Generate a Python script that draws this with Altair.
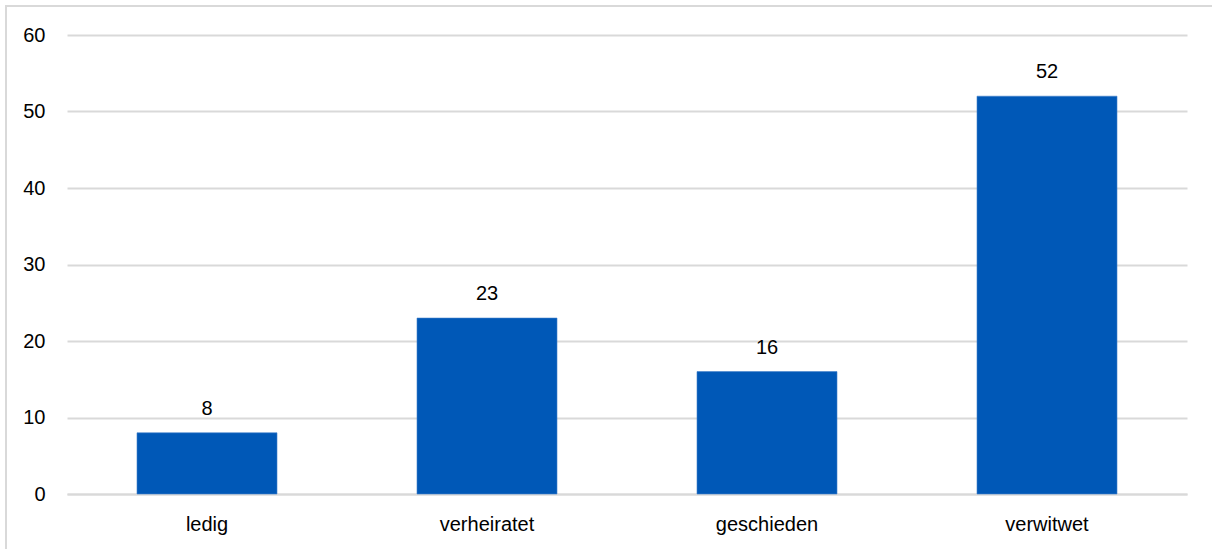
import altair as alt
import pandas as pd

# Familienstand and share (percent)
categories = ["ledig", "verheiratet", "geschieden", "verwitwet"]
values = [8, 23, 16, 52]

df = pd.DataFrame({"stand": categories, "wert": values})

FONT = "Liberation Sans"
FSIZE = 20
GRID = "#D9D9D9"
BAR = "#0058B7"

base = alt.Chart(df)

bars = base.mark_bar(color=BAR, stroke="#3F7FCB", strokeWidth=0.6).encode(
    x=alt.X(
        "stand:N",
        sort=categories,
        title=None,
        scale=alt.Scale(paddingInner=0.5, paddingOuter=0.25),
        axis=alt.Axis(
            labelAngle=0,
            labelFontSize=FSIZE,
            labelFont=FONT,
            labelColor="#000000",
            labelPadding=20,
            ticks=False,
            domainColor=GRID,
            domainWidth=2,
        ),
    ),
    y=alt.Y(
        "wert:Q",
        title=None,
        scale=alt.Scale(domain=[0, 60], nice=False),
        axis=alt.Axis(
            values=[0, 10, 20, 30, 40, 50, 60],
            labelFontSize=FSIZE,
            labelFont=FONT,
            labelColor="#000000",
            labelPadding=22,
            ticks=False,
            domain=False,
            gridColor=GRID,
            gridWidth=2,
        ),
    ),
)

labels = base.mark_text(
    font=FONT, fontSize=FSIZE, color="#000000", baseline="alphabetic", dy=-18
).encode(
    x=alt.X("stand:N", sort=categories),
    y="wert:Q",
    text=alt.Text("wert:Q", format=".0f"),
)

# thin frame along the top and left edge of the figure
frame_df = pd.DataFrame({"k": [0]})
frame_left = alt.Chart(frame_df).mark_rule(color=GRID, strokeWidth=2).encode(
    x=alt.value(-61), y=alt.value(-30), y2=alt.value(520)
)
frame_top = alt.Chart(frame_df).mark_rule(color=GRID, strokeWidth=2).encode(
    x=alt.value(-62), x2=alt.value(1150), y=alt.value(-29)
)

chart = (
    alt.layer(bars, labels, frame_left, frame_top)
    .properties(
        width=1120,
        height=459,
        autosize=alt.AutoSizeParams(type="none"),
        padding={"left": 67, "top": 35, "right": 25, "bottom": 55},
        background="#FFFFFF",
    )
    .configure_view(stroke=None)
)

chart.save("out.html", embed_options={"renderer": "svg", "actions": False})
